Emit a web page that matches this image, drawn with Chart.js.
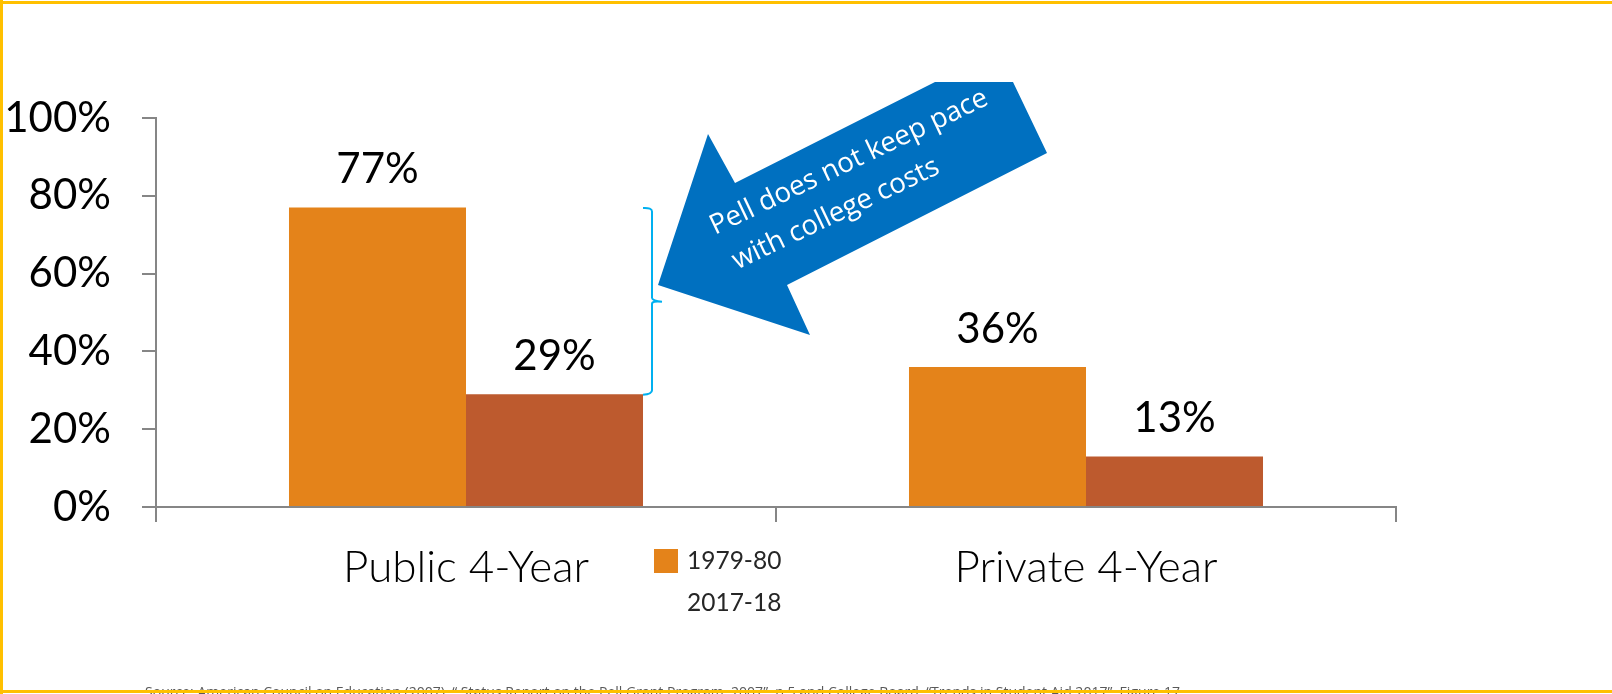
<!DOCTYPE html>
<html>
<head>
<meta charset="utf-8">
<title>Pell Grant purchasing power</title>
<script src="https://cdn.jsdelivr.net/npm/chart.js@4.4.1/dist/chart.umd.min.js"></script>
<style>
    html, body { margin: 0; padding: 0; background: #fff; }
    canvas { display: block; }
</style>
</head>
<body>
<canvas id="pell_chart" width="1612" height="694"></canvas>
<script>
// share of cost of attendance covered by the maximum Pell Grant
const categories = ['Public 4-Year', 'Private 4-Year'];
const years = ['1979-80', '2017-18'];
const share_1979 = [77, 36];
const share_2017 = [29, 13];
const y_ticks = [0, 20, 40, 60, 80, 100];

const source_note = 'Source: American Council on Education (2007). \u201C Status Report on the Pell Grant Program, 2007\u201D, p.5 and College Board, \u201CTrends in Student Aid 2017\u201D, Figure 17.';
const arrow_lines = ['Pell does not keep pace', 'with college costs'];

const orange = '#E4831A';
const rust = '#BD5A2E';
const axis_gray = '#868686';
const frame_gold = '#FFC000';

// blue callout arrow, tip first
const arrow_shape = [
    [658, 285], [708, 134], [735, 183], [935, 82], [1013, 82],
    [1047, 153], [787, 285], [810, 335]
];

let bg_plugin = {
    id: 'bg',
    beforeDraw(chart) {
        let c = chart.ctx;
        c.save();
        c.fillStyle = '#fff';
        c.fillRect(0, 0, chart.width, chart.height);
        c.restore();
    }
};

// percentages written above each bar
let value_labels = {
    id: 'value_labels',
    afterDatasetsDraw(chart) {
        let c = chart.ctx;
        c.save();
        c.font = '42px Lato';
        c.fillStyle = '#000';
        c.textAlign = 'center';
        c.textBaseline = 'alphabetic';
        chart.data.datasets.forEach(function (ds, i) {
            chart.getDatasetMeta(i).data.forEach(function (bar, j) {
                c.fillText(ds.data[j] + '%', bar.x, bar.y - 24);
            });
        });
        c.restore();
    }
};

// legend stacked under the middle of the axis
let side_legend = {
    id: 'side_legend',
    afterDraw(chart) {
        let c = chart.ctx;
        c.save();
        c.font = '24.5px Lato';
        c.fillStyle = '#262626';
        c.textBaseline = 'middle';
        c.textAlign = 'left';
        chart.data.datasets.forEach(function (ds, i) {
            let y = 561 + i * 42;
            if (i === 0) {
                c.fillStyle = ds.backgroundColor;
                c.fillRect(654, y - 12, 24, 24);
                c.fillStyle = '#262626';
            }
            c.fillText(ds.label, 687, y);
        });
        c.restore();
    }
};

// brace between the two public bars and the arrow pointing at it
let callout = {
    id: 'callout',
    afterDraw(chart) {
        let c = chart.ctx;
        let y = chart.scales.y;
        let bar = chart.getDatasetMeta(1).data[0];
        let x0 = bar.x + bar.width / 2;
        let top = y.getPixelForValue(share_1979[0]);
        let bot = y.getPixelForValue(share_2017[0]);
        let mid = (top + bot) / 2;
        let xv = x0 + 9;

        c.save();
        c.strokeStyle = '#00B0F0';
        c.lineWidth = 2;
        c.beginPath();
        c.moveTo(x0, top + 0.5);
        c.quadraticCurveTo(xv, top, xv, top + 4);
        c.lineTo(xv, mid - 3);
        c.quadraticCurveTo(xv, mid, xv + 10, mid + 1);
        c.moveTo(xv, mid + 3);
        c.quadraticCurveTo(xv, mid, xv + 10, mid + 1);
        c.moveTo(xv, mid + 3);
        c.lineTo(xv, bot - 4);
        c.quadraticCurveTo(xv, bot, x0, bot + 0.5);
        c.stroke();

        c.fillStyle = '#0070C0';
        c.beginPath();
        arrow_shape.forEach(function (p, i) {
            if (i === 0) c.moveTo(p[0], p[1]);
            else c.lineTo(p[0], p[1]);
        });
        c.closePath();
        c.fill();

        c.fillStyle = '#fff';
        c.font = '24px "Open Sans"';
        let size = 24 * 305 / c.measureText(arrow_lines[0]).width;
        c.font = size.toFixed(1) + 'px "Open Sans"';
        c.textAlign = 'left';
        c.textBaseline = 'alphabetic';
        c.translate(715, 235);
        c.rotate(-25.5 * Math.PI / 180);
        c.fillText(arrow_lines[0], 0, 0);
        c.fillText(arrow_lines[1], 5, 41);
        c.restore();
    }
};

// source line and gold frame round the slide
let frame = {
    id: 'frame',
    afterDraw(chart) {
        let c = chart.ctx;
        c.save();
        c.fillStyle = '#595959';
        c.font = '14px "Open Sans"';
        let size = 14 * 1039 / c.measureText(source_note).width;
        c.font = size.toFixed(2) + 'px "Open Sans"';
        c.textBaseline = 'alphabetic';
        c.fillText(source_note, 145, 697);

        c.fillStyle = frame_gold;
        c.fillRect(0, 1, chart.width, 3);
        c.fillRect(0, 0, 3, chart.height);
        c.fillRect(0, 690, chart.width, 3);
        c.restore();
    }
};

new Chart(document.getElementById('pell_chart').getContext('2d'), {
    type: 'bar',
    data: {
        labels: categories,
        datasets: [
            {label: years[0], data: share_1979, backgroundColor: orange},
            {label: years[1], data: share_2017, backgroundColor: rust}
        ]
    },
    options: {
        responsive: false,
        animation: false,
        devicePixelRatio: 1,
        layout: {padding: {top: 118, right: 216, left: 0, bottom: 0}},
        plugins: {legend: {display: false}, tooltip: {enabled: false}},
        datasets: {bar: {categoryPercentage: 0.571, barPercentage: 1}},
        scales: {
            x: {
                grid: {offset: true, drawOnChartArea: false, tickLength: 15, color: axis_gray, lineWidth: 2},
                border: {color: axis_gray, width: 2},
                ticks: {font: {family: 'Lato', size: 44, weight: 300}, color: '#000', padding: 19},
                afterFit: function (s) { s.height = 187; }
            },
            y: {
                min: y_ticks[0],
                max: y_ticks[y_ticks.length - 1],
                ticks: {
                    stepSize: y_ticks[1] - y_ticks[0],
                    callback: v => v + '%',
                    font: {family: 'Lato', size: 42},
                    color: '#000',
                    padding: 31
                },
                grid: {drawOnChartArea: false, tickLength: 14, color: axis_gray, lineWidth: 2},
                border: {color: axis_gray, width: 2},
                afterFit: function (s) { s.width = 156; }
            }
        }
    },
    plugins: [bg_plugin, value_labels, side_legend, callout, frame]
});
</script>
</body>
</html>
